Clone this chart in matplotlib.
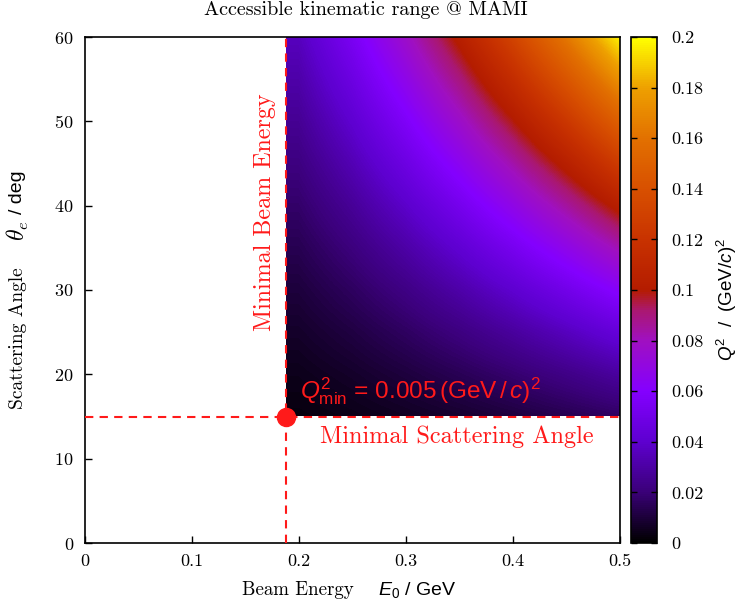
import matplotlib
matplotlib.use("Agg")
import matplotlib.pyplot as plt
import numpy as np
from matplotlib.colors import LinearSegmentedColormap
from matplotlib.patches import Rectangle
from matplotlib.ticker import FuncFormatter


# beam energy nodes (GeV) and scattering angle nodes (deg) of the Q^2 map
e0_nodes = [0.20, 0.25, 0.30, 0.35, 0.40, 0.45, 0.50]
theta_nodes = [15, 20, 25, 30, 35, 40, 45, 50, 55, 60]

# Q^2 in (GeV/c)^2 read along theta for each beam energy
q2_e020 = [0.0027, 0.0048, 0.0074, 0.0104, 0.0139, 0.0178, 0.0221, 0.0266, 0.0313, 0.0362]
q2_e025 = [0.0042, 0.0074, 0.0114, 0.0162, 0.0216, 0.0275, 0.0340, 0.0408, 0.0479, 0.0552]
q2_e030 = [0.0061, 0.0107, 0.0164, 0.0231, 0.0308, 0.0392, 0.0482, 0.0577, 0.0675, 0.0776]
q2_e035 = [0.0082, 0.0145, 0.0222, 0.0313, 0.0415, 0.0527, 0.0647, 0.0772, 0.0901, 0.1032]
q2_e040 = [0.0107, 0.0188, 0.0288, 0.0406, 0.0537, 0.0681, 0.0833, 0.0992, 0.1155, 0.1319]
q2_e045 = [0.0136, 0.0237, 0.0363, 0.0510, 0.0674, 0.0852, 0.1040, 0.1235, 0.1434, 0.1633]
q2_e050 = [0.0167, 0.0292, 0.0446, 0.0625, 0.0825, 0.1040, 0.1267, 0.1500, 0.1737, 0.1974]

e0_min = 0.188
theta_min = 15
e0_max = 0.5
theta_max = 60
xticks = [0, 0.1, 0.2, 0.3, 0.4, 0.5]
yticks = [0, 10, 20, 30, 40, 50, 60]
cticks = [0, 0.02, 0.04, 0.06, 0.08, 0.1, 0.12, 0.14, 0.16, 0.18, 0.2]

plt.rcParams["mathtext.fontset"] = "custom"
plt.rcParams["mathtext.rm"] = "Liberation Sans"
plt.rcParams["mathtext.it"] = "Liberation Sans:italic"
plt.rcParams["mathtext.bf"] = "Liberation Sans:bold"
plt.rcParams["axes.formatter.use_mathtext"] = True

SERIF = "cmr10"
SANS = "Liberation Sans"
RED = "#ff1a1a"

cmap = LinearSegmentedColormap.from_list("mami", [
    (0.00, "#000000"),
    (0.10, "#3a0078"),
    (0.20, "#5e00d0"),
    (0.30, "#8400ff"),
    (0.40, "#a010c0"),
    (0.46, "#aa1870"),
    (0.50, "#b41c00"),
    (0.60, "#c83200"),
    (0.70, "#d85000"),
    (0.80, "#e27000"),
    (0.90, "#eea000"),
    (1.00, "#ffff00"),
])

q2 = np.array([q2_e020, q2_e025, q2_e030, q2_e035, q2_e040, q2_e045, q2_e050]).T
dx = e0_nodes[1] - e0_nodes[0]
dy = theta_nodes[1] - theta_nodes[0]

fig = plt.figure(figsize=(7.38, 6.13), dpi=100)
ax = fig.add_axes([85 / 738, 1 - 543 / 613, 535 / 738, 506 / 613])
cax = fig.add_axes([631 / 738, 1 - 543 / 613, 26 / 738, 506 / 613])

img = ax.imshow(q2, origin="lower", cmap=cmap, vmin=0, vmax=0.2, aspect="auto",
                interpolation="bilinear", interpolation_stage="data",
                extent=[e0_nodes[0] - dx / 2, e0_nodes[-1] + dx / 2,
                        theta_nodes[0] - dy / 2, theta_nodes[-1] + dy / 2])
clip = Rectangle((e0_min, theta_min), e0_max - e0_min, theta_max - theta_min,
                 transform=ax.transData, fc="none", ec="none")
ax.add_patch(clip)
img.set_clip_path(clip)

ax.set_xlim(0, 0.5)
ax.set_ylim(0, 60)
ax.set_xticks(xticks)
ax.set_yticks(yticks)
ax.xaxis.set_major_formatter(FuncFormatter(lambda v, p: f"{v:g}"))
ax.tick_params(direction="in", length=5, width=1, labelsize=13, pad=8)
for lab in ax.get_xticklabels() + ax.get_yticklabels():
    lab.set_fontfamily(SERIF)
for sp in ax.spines.values():
    sp.set_linewidth(1.2)

# minimal beam energy / scattering angle limits
ax.axvline(e0_min, color=RED, lw=1.5, ls=(0, (4, 3)), zorder=3)
ax.axhline(theta_min, color=RED, lw=1.5, ls=(0, (4, 3)), zorder=3)
ax.plot([e0_min], [theta_min], "o", color=RED, ms=13, zorder=4, clip_on=False)

ax.text(0.168, 39.2, "Minimal Beam Energy", rotation=90, color=RED, fontsize=17.3,
        family=SERIF, ha="center", va="center")
ax.text(0.3477, 12.6, "Minimal Scattering Angle", color=RED, fontsize=17.5,
        family=SERIF, ha="center", va="center")
ax.text(0.201, 18.0, r"$Q^2_{\rm min}$ = 0.005$\,$(GeV$\,$/$\,c$)$^2$", color=RED,
        fontsize=17.6, family=SANS, ha="left", va="center")

cb = fig.colorbar(img, cax=cax, ticks=cticks)
cb.ax.yaxis.set_major_formatter(FuncFormatter(lambda v, p: f"{v:g}"))
cb.ax.tick_params(direction="in", length=4, width=1, labelsize=13, pad=10, left=True, right=True)
for lab in cb.ax.get_yticklabels():
    lab.set_fontfamily(SERIF)
cb.outline.set_linewidth(1.2)

fig.text(366 / 738, 1 - 10 / 613, "Accessible kinematic range @ MAMI", family=SERIF,
         fontsize=14.5, ha="center", va="center")
fig.text(298 / 738, 1 - 590 / 613, "Beam Energy", family=SERIF, fontsize=13.6,
         ha="center", va="center")
fig.text(417 / 738, 1 - 590 / 613, r"$E_0$ / GeV", family=SANS, fontsize=14,
         ha="center", va="center")
fig.text(18 / 738, 1 - 338 / 613, "Scattering Angle", family=SERIF, fontsize=14,
         rotation=90, ha="center", va="center")
fig.text(18 / 738, 1 - 231 / 613, r"$\theta_e$", fontsize=17, math_fontfamily="cm",
         rotation=90, ha="center", va="center")
fig.text(18 / 738, 1 - 192 / 613, "/ deg", family=SANS, fontsize=14,
         rotation=90, ha="center", va="center")
fig.text(727 / 738, 1 - 299 / 613, r"$Q^2$  /  (GeV/$c$)$^2$", family=SANS, fontsize=13.5,
         rotation=90, ha="center", va="center")

fig.savefig("out.png", dpi=100)
